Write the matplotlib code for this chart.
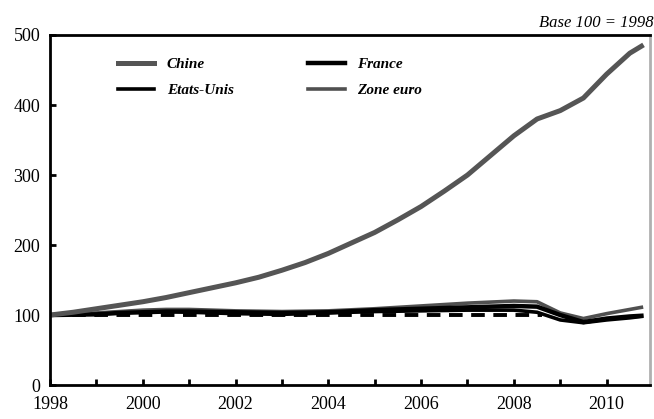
import numpy as np
import matplotlib
matplotlib.use("Agg")
import matplotlib.pyplot as plt
from matplotlib.ticker import MultipleLocator

plt.rcParams['font.family'] = ['Liberation Serif', 'DejaVu Serif']

# half-year grid, last point Q3 2010
years = [1998.0, 1998.5, 1999.0, 1999.5, 2000.0, 2000.5, 2001.0, 2001.5, 2002.0,
         2002.5, 2003.0, 2003.5, 2004.0, 2004.5, 2005.0, 2005.5, 2006.0, 2006.5,
         2007.0, 2007.5, 2008.0, 2008.5, 2009.0, 2009.5, 2010.0, 2010.5, 2010.75]

chine = [100, 104, 109, 114, 119, 125, 132, 139, 146, 154, 164, 175, 188, 203,
         218, 236, 255, 277, 300, 328, 356, 380, 392, 410, 444, 474, 484]
france = [100, 100.5, 101, 103, 104, 105, 105, 104.5, 104, 103.5, 103, 103.5, 104,
          105.5, 107, 108, 109, 110, 111, 112, 113, 112, 100, 90, 95, 98, 99]
etats_unis = [100, 101, 102, 104, 106, 105.5, 104, 103, 102, 101.5, 101, 102, 103,
              104, 105, 105.5, 106, 106.5, 107, 107, 107, 104, 93, 89, 93, 96, 98]
zone_euro = [100, 101.5, 103, 105, 107, 108, 108, 107, 106, 105.5, 105, 105.5, 106,
             107.5, 109, 111, 113, 115, 117, 118.5, 120, 119, 103, 95, 102, 108, 111]

ref_years = [1998.0, 2008.6]
ref_values = [100, 100]

fig = plt.figure(figsize=(6.54, 4.19), dpi=100)
ax = fig.add_axes([0.0765, 0.081, 0.917, 0.8355])

ax.plot(ref_years, ref_values, color='black', lw=2.8, ls=(0, (3.5, 2.2)))
ax.plot(years, etats_unis, color='black', lw=2.6, label='Etats-Unis')
ax.plot(years, zone_euro, color='#505050', lw=2.6, label='Zone euro')
ax.plot(years, france, color='black', lw=3.2, label='France')
ax.plot(years, chine, color='#555555', lw=3.6, label='Chine')

ax.set_xlim(1998, 2010.93)
ax.set_ylim(0, 500)
ax.xaxis.set_major_locator(MultipleLocator(2))
ax.xaxis.set_minor_locator(MultipleLocator(1))
ax.yaxis.set_major_locator(MultipleLocator(100))
ax.tick_params(axis='both', which='both', direction='in', width=2, length=4)
ax.tick_params(axis='x', pad=8, labelsize=13)
ax.tick_params(axis='y', pad=7, labelsize=13)

for s in ['left', 'bottom', 'top']:
    ax.spines[s].set_linewidth(2)
    ax.spines[s].set_color('black')
ax.spines['right'].set_color('#b0b0b0')
ax.spines['right'].set_linewidth(2)

h, l = ax.get_legend_handles_labels()
order = [l.index('Chine'), l.index('Etats-Unis'), l.index('France'), l.index('Zone euro')]
ax.legend([h[i] for i in order], [l[i] for i in order], ncol=2, frameon=False,
          loc='upper left', bbox_to_anchor=(0.09, 0.975), handlelength=2.4,
          columnspacing=4.9, labelspacing=0.8,
          prop={'style': 'italic', 'weight': 'bold', 'size': 11})

fig.text(0.999, 0.925, 'Base 100 = 1998', ha='right', va='bottom',
         fontsize=12, style='italic')

fig.savefig('out.png', dpi=100)
